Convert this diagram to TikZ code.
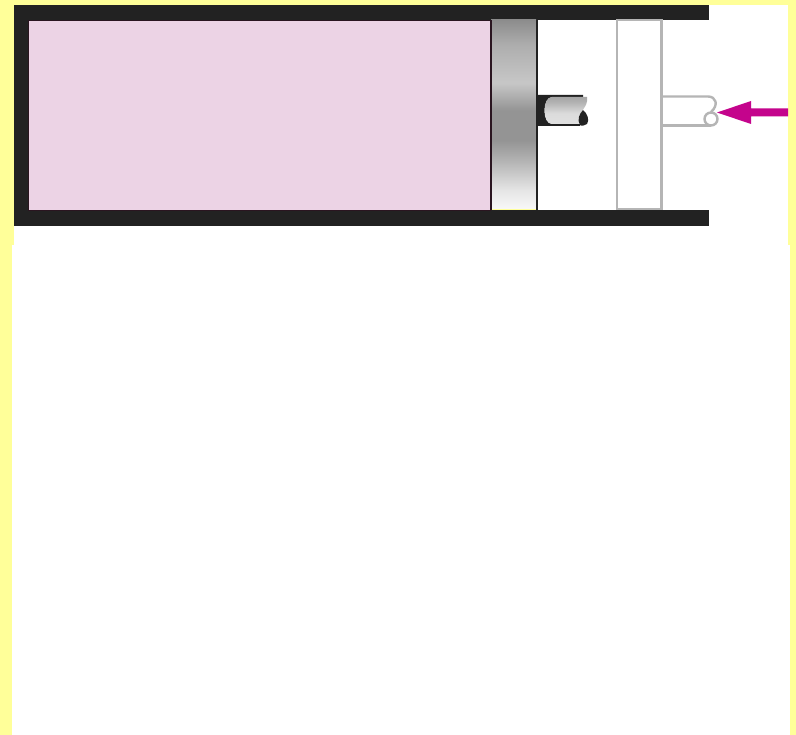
\documentclass[tikz,border=0pt]{standalone}
\definecolor{bgyellow}{HTML}{FFFF99}
\definecolor{wall}{HTML}{222222}
\definecolor{gasfill}{HTML}{ECD3E5}
\definecolor{gasedge}{HTML}{2A1520}
\definecolor{ghost}{HTML}{B5B5B5}
\definecolor{pushmag}{HTML}{C4048C}
\pgfdeclareverticalshading{pistonshade}{100bp}{
 color(0bp)=(black!3); color(25bp)=(black!3);
 color(29.8bp)=(black!10); color(37.8bp)=(black!30);
 color(43.1bp)=(black!42); color(51bp)=(black!42);
 color(58.3bp)=(black!22); color(68.4bp)=(black!32);
 color(75bp)=(black!45); color(100bp)=(black!45)}
\pgfdeclareverticalshading{rodshade}{100bp}{
 color(0bp)=(black!12); color(25bp)=(black!12);
 color(45bp)=(black!14); color(65bp)=(black!30);
 color(75bp)=(black!35); color(100bp)=(black!35)}
\tikzset{
 ghostline/.style={draw=ghost,line width=2.4pt},
 ghostrod/.style={draw=ghost,line width=2.4pt,line join=round},
}
\begin{document}
\begin{tikzpicture}[x=1pt,y=-1pt]
\useasboundingbox (0,0) rectangle (796,735);
% page
\fill[bgyellow] (0,0) rectangle (796,735);
\fill[white] (12,245) rectangle (790,735);
\fill[white] (14,226) rectangle (788,246);
\fill[white] (709,5) rectangle (788,226);
\fill[white] (537,20) rectangle (709,210);
% cylinder
\fill[wall] (14,5) rectangle (709,20);
\fill[wall] (14,210) rectangle (709,226);
\fill[wall] (14,5) rectangle (28,226);
% gas
\draw[gasedge,fill=gasfill,line width=1.6pt] (28.5,20.5) rectangle (490.5,210.5);
% piston
\shade[shading=pistonshade] (491,20) rectangle (536,208.5);
\draw[wall,line width=2pt] (536.5,20) -- (536.5,210);
\draw[gasedge,line width=1.6pt] (491,20) -- (491,210);
% piston rod
\fill[wall] (537,95) -- (583,95) -- (583,97) -- (552,97)
  .. controls (542,97) and (542,124) .. (552,124) -- (580,124)
  -- (580,126) -- (537,126) -- cycle;
\shade[shading=rodshade] (552,97) -- (587,97) .. controls (588,103) and (585,107) .. (582,111)
  .. controls (578,115) and (578,120) .. (580,124) -- (552,124)
  .. controls (542,124) and (542,97) .. (552,97) -- cycle;
\fill[wall] (583,110) .. controls (587,113) and (590,120) .. (587,124)
  .. controls (585,126) and (581,126) .. (580,125)
  .. controls (577,120) and (579,114) .. (583,110) -- cycle;
% ghost piston
\draw[ghostline] (617,20) rectangle (661.5,209);
% ghost rod
\draw[ghostrod] (662,96.5) -- (708,96.5) .. controls (716,96.5) and (719,105) .. (711,112);
\draw[ghostrod] (662,125.5) -- (711,125.5);
\draw[ghostrod] (711,119) circle[radius=6.5];
% push arrow
\fill[pushmag] (788,108.5) -- (751,108.5) -- (751,101) -- (717,112.5) -- (751,124) -- (751,116.5) -- (788,116.5) -- cycle;
\end{tikzpicture}
\end{document}
